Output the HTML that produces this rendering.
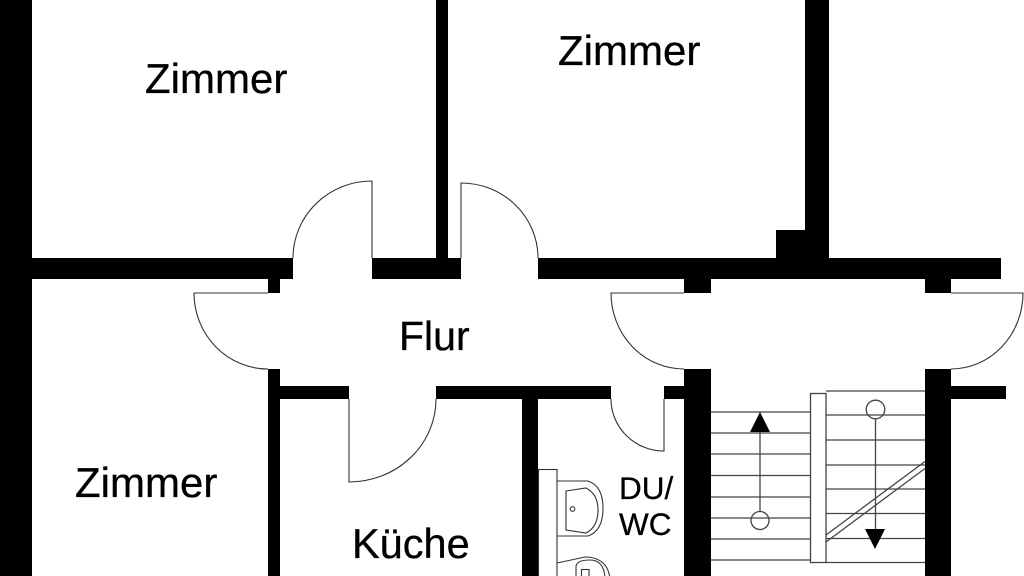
<!DOCTYPE html>
<html><head><meta charset="utf-8"><style>
html,body{margin:0;padding:0;background:#fff;}
svg{display:block;}
text{font-family:"Liberation Sans",Arial,sans-serif;fill:#000;stroke:#000;stroke-width:0.3;}
</style></head><body>
<svg width="1024" height="576" viewBox="0 0 1024 576" xmlns="http://www.w3.org/2000/svg">
<rect width="1024" height="576" fill="#fff"/>
<g fill="#000">
<rect x="0" y="0" width="32" height="576"/>
<rect x="436" y="0" width="12" height="258"/>
<rect x="32" y="258" width="261" height="21"/>
<rect x="372" y="258" width="89" height="21"/>
<rect x="538" y="258" width="463" height="21"/>
<rect x="805" y="0" width="24" height="258"/>
<rect x="776" y="230" width="29" height="28"/>
<rect x="268" y="279" width="12" height="14"/>
<rect x="684" y="279" width="27" height="14"/>
<rect x="925" y="279" width="26" height="14"/>
<rect x="268" y="369" width="12" height="207"/>
<rect x="280" y="386" width="69" height="13"/>
<rect x="436" y="386" width="175" height="13"/>
<rect x="664" y="386" width="20" height="13"/>
<rect x="684" y="369" width="27" height="207"/>
<rect x="925" y="369" width="26" height="207"/>
<rect x="951" y="386" width="55" height="13"/>
<rect x="522" y="399" width="16" height="177"/>
</g>
<g fill="none" stroke="#333" stroke-width="1.1">
<path d="M372,258 V181 A79 77 0 0 0 293,258"/>
<path d="M461,258 V183 A77 75 0 0 1 538,258"/>
<path d="M268,293 H194 A74 76 0 0 0 268,369"/>
<path d="M684,293 H611 A73 76 0 0 0 684,369"/>
<path d="M951,293 H1023 A72 76 0 0 1 951,369"/>
<path d="M349,399 V482 A87 83 0 0 0 436,399"/>
<path d="M664,399 V451 A53 52 0 0 1 611,399"/>
</g>
<g fill="none" stroke="#444" stroke-width="1.3">
<line x1="711" y1="412" x2="810" y2="412"/>
<line x1="711" y1="433" x2="810" y2="433"/>
<line x1="711" y1="454" x2="810" y2="454"/>
<line x1="711" y1="475.5" x2="810" y2="475.5"/>
<line x1="711" y1="497" x2="810" y2="497"/>
<line x1="711" y1="518" x2="810" y2="518"/>
<line x1="711" y1="539" x2="810" y2="539"/>
<line x1="711" y1="560" x2="810" y2="560"/>
<line x1="826" y1="391" x2="925" y2="391"/>
<line x1="826" y1="415" x2="925" y2="415"/>
<line x1="826" y1="440" x2="925" y2="440"/>
<line x1="826" y1="465" x2="925" y2="465"/>
<line x1="826" y1="489" x2="925" y2="489"/>
<line x1="826" y1="513.5" x2="925" y2="513.5"/>
<line x1="826" y1="538.5" x2="925" y2="538.5"/>
<line x1="826" y1="562.5" x2="925" y2="562.5"/>
<rect x="810.5" y="393.5" width="15.5" height="169"/>
<line x1="826" y1="535" x2="925" y2="461.5"/>
<line x1="826" y1="542" x2="925" y2="468.5"/>
<line x1="760" y1="430" x2="760" y2="511"/>
<circle cx="760" cy="520.5" r="9"/>
<circle cx="875.5" cy="409.5" r="9.3"/>
<line x1="875.5" y1="419" x2="875.5" y2="531"/>
</g>
<polygon points="760,412 750,432 770,432" fill="#000"/>
<polygon points="865,529 885,529 875,549" fill="#000"/>
<g fill="none" stroke="#333" stroke-width="1.1">
<rect x="538.5" y="469.5" width="18.5" height="110"/>
<path d="M557,481 H588 Q603,486 603,508 Q603,531 588,536 H557"/>
<path d="M566,491 L586,488 Q598,494 598,510 Q598,527 586,533 L566,530 Z"/>
<circle cx="572.5" cy="509" r="2.3"/>
<path d="M557,563 L585,557 Q607,557 610,578"/>
<path d="M576,578 V567 Q576,560 590,560 Q604,560 605,578"/>
<rect x="581.5" y="569.5" width="7.5" height="9"/>
</g>
<text x="145" y="93" font-size="42">Zimmer</text>
<text x="558" y="65" font-size="42">Zimmer</text>
<text x="75" y="497" font-size="42">Zimmer</text>
<text x="399" y="350" font-size="41">Flur</text>
<text x="352" y="558" font-size="41.5">Küche</text>
<text x="619" y="499" font-size="31.5">DU/</text>
<text x="619" y="535" font-size="31.5">WC</text>
</svg>
</body></html>
